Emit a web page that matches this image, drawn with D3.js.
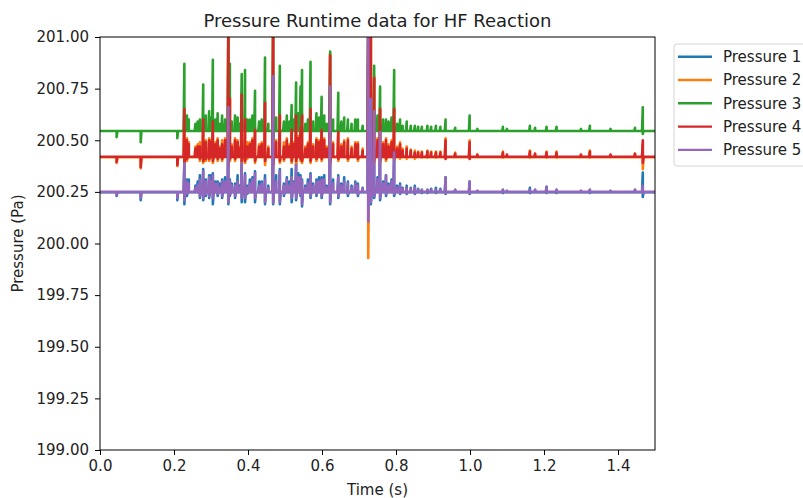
<!DOCTYPE html>
<html>
<head>
<meta charset="utf-8">
<script src="https://cdn.jsdelivr.net/npm/d3@7"></script>
<style>
  body { margin: 0; background: #fff; }
  text { font-family: "DejaVu Sans", sans-serif; fill: #222; }
</style>
</head>
<body>
<div id="chart"></div>
<script>
// event times (s) where the pressure traces spike
var spikeTimes = [0.045, 0.110, 0.209, 0.228, 0.235, 0.270, 0.279, 0.286, 0.295, 0.305,
  0.318, 0.330, 0.347, 0.351, 0.365, 0.383, 0.392, 0.398, 0.419, 0.446,
  0.468, 0.486, 0.497, 0.518, 0.530, 0.542, 0.546, 0.569, 0.585, 0.599,
  0.622, 0.644, 0.670, 0.697, 0.725, 0.732, 0.741, 0.757, 0.773, 0.795,
  0.811, 0.829, 0.851, 0.870, 0.885, 0.908, 0.934, 0.999, 1.089, 1.162,
  1.207, 1.234, 1.324, 1.467];

// resting level of each sensor
var baseLevels = [200.248, 200.418, 200.545, 200.42, 200.25];

// spike tops per sensor (same order as spikeTimes)
var p1High = [200.248, 200.248, 200.248, 200.39, 200.31, 200.33, 200.36, 200.31, 200.33, 200.34,
  200.30, 200.31, 200.66, 200.31, 200.29, 200.40, 200.34, 200.28, 200.35, 200.33,
  200.81, 200.36, 200.29, 200.36, 200.39, 200.33, 200.31, 200.34, 200.31, 200.32,
  200.76, 200.33, 200.30, 200.29, 201.10, 200.70, 200.64, 200.54, 200.33, 200.44,
  200.29, 200.28, 200.28, 200.26, 200.26, 200.27, 200.32, 200.30, 200.26, 200.27,
  200.275, 200.26, 200.26, 200.343];
var p2High = [200.418, 200.418, 200.418, 200.66, 200.51, 200.49, 200.61, 200.50, 200.51, 200.60,
  200.51, 200.50, 201.10, 200.71, 200.51, 200.73, 200.61, 200.49, 200.56, 200.69,
  201.10, 200.63, 200.49, 200.56, 200.63, 200.57, 200.63, 200.66, 200.51, 200.56,
  200.92, 200.55, 200.51, 200.49, 201.10, 201.10, 200.81, 200.66, 200.51, 200.66,
  200.49, 200.47, 200.45, 200.445, 200.45, 200.445, 200.51, 200.50, 200.445, 200.45,
  200.445, 200.445, 200.45, 200.48];
var p3High = [200.545, 200.545, 200.545, 200.87, 200.62, 200.60, 200.77, 200.62, 200.64, 200.89,
  200.63, 200.62, 201.10, 200.87, 200.62, 200.82, 200.84, 200.60, 200.74, 200.90,
  201.10, 200.86, 200.59, 200.67, 200.78, 200.76, 200.84, 200.88, 200.63, 200.71,
  200.93, 200.73, 200.60, 200.60, 201.10, 201.10, 200.86, 200.76, 200.60, 200.84,
  200.60, 200.59, 200.57, 200.565, 200.57, 200.57, 200.60, 200.62, 200.565, 200.57,
  200.565, 200.565, 200.57, 200.66];
var p4High = [200.42, 200.42, 200.42, 200.65, 200.50, 200.47, 200.60, 200.49, 200.50, 200.59,
  200.50, 200.48, 201.10, 200.70, 200.50, 200.72, 200.60, 200.47, 200.55, 200.68,
  201.10, 200.62, 200.47, 200.55, 200.62, 200.56, 200.62, 200.65, 200.50, 200.55,
  200.91, 200.54, 200.50, 200.48, 201.10, 201.10, 200.80, 200.65, 200.50, 200.65,
  200.48, 200.46, 200.44, 200.44, 200.445, 200.44, 200.50, 200.49, 200.44, 200.445,
  200.44, 200.44, 200.445, 200.50];
var p5High = [200.25, 200.25, 200.25, 200.39, 200.30, 200.31, 200.35, 200.30, 200.32, 200.33,
  200.29, 200.30, 200.66, 200.30, 200.28, 200.39, 200.33, 200.27, 200.34, 200.31,
  200.81, 200.35, 200.28, 200.32, 200.38, 200.32, 200.30, 200.33, 200.30, 200.31,
  200.76, 200.32, 200.29, 200.28, 201.10, 200.70, 200.64, 200.54, 200.33, 200.44,
  200.28, 200.27, 200.27, 200.26, 200.26, 200.26, 200.32, 200.30, 200.26, 200.26,
  200.275, 200.26, 200.26, 200.28];

// spike bottoms per sensor (same order as spikeTimes)
var p1Low = [200.23, 200.21, 200.21, 200.19, 200.23, 200.22, 200.21, 200.23, 200.22, 200.19,
  200.23, 200.22, 200.19, 200.23, 200.22, 200.20, 200.20, 200.24, 200.20, 200.19,
  200.19, 200.19, 200.23, 200.20, 200.21, 200.23, 200.18, 200.22, 200.23, 200.22,
  200.19, 200.22, 200.23, 200.23, 200.11, 200.19, 200.22, 200.21, 200.23, 200.23,
  200.24, 200.24, 200.24, 200.245, 200.245, 200.245, 200.24, 200.24, 200.245, 200.245,
  200.245, 200.245, 200.245, 200.225];
var p2Low = [200.39, 200.365, 200.375, 200.38, 200.40, 200.40, 200.39, 200.40, 200.40, 200.39,
  200.40, 200.40, 200.37, 200.40, 200.40, 200.38, 200.39, 200.41, 200.39, 200.38,
  200.37, 200.39, 200.40, 200.39, 200.38, 200.40, 200.39, 200.39, 200.40, 200.40,
  200.38, 200.40, 200.40, 200.40, 199.93, 200.37, 200.39, 200.39, 200.40, 200.40,
  200.41, 200.41, 200.41, 200.415, 200.415, 200.415, 200.41, 200.41, 200.415, 200.415,
  200.415, 200.415, 200.415, 200.36];
var p3Low = [200.515, 200.49, 200.51, 200.545, 200.545, 200.545, 200.545, 200.545, 200.545, 200.545,
  200.545, 200.545, 200.50, 200.545, 200.545, 200.545, 200.545, 200.545, 200.545, 200.545,
  200.50, 200.545, 200.545, 200.545, 200.545, 200.545, 200.545, 200.545, 200.545, 200.545,
  200.52, 200.545, 200.545, 200.545, 200.30, 200.50, 200.545, 200.545, 200.545, 200.545,
  200.545, 200.545, 200.545, 200.545, 200.545, 200.545, 200.545, 200.545, 200.545, 200.545,
  200.545, 200.545, 200.545, 200.53];
var p4Low = [200.395, 200.37, 200.38, 200.39, 200.41, 200.41, 200.40, 200.41, 200.41, 200.40,
  200.41, 200.41, 200.38, 200.41, 200.41, 200.40, 200.40, 200.42, 200.40, 200.40,
  200.38, 200.40, 200.41, 200.40, 200.40, 200.41, 200.40, 200.40, 200.41, 200.41,
  200.39, 200.41, 200.41, 200.41, 200.30, 200.38, 200.40, 200.40, 200.41, 200.41,
  200.42, 200.42, 200.42, 200.42, 200.42, 200.42, 200.41, 200.41, 200.42, 200.42,
  200.42, 200.42, 200.42, 200.39];
var p5Low = [200.235, 200.22, 200.22, 200.21, 200.24, 200.23, 200.22, 200.24, 200.23, 200.22,
  200.24, 200.23, 200.20, 200.24, 200.23, 200.22, 200.22, 200.245, 200.22, 200.20,
  200.196, 200.20, 200.24, 200.22, 200.22, 200.24, 200.19, 200.23, 200.24, 200.23,
  200.20, 200.23, 200.24, 200.24, 200.106, 200.20, 200.23, 200.22, 200.24, 200.24,
  200.245, 200.245, 200.245, 200.25, 200.25, 200.25, 200.245, 200.245, 200.25, 200.25,
  200.25, 200.25, 200.25, 200.245];

// smaller ripples between the main spikes (tops only)
var rippleTimes = [0.240, 0.258, 0.264, 0.300, 0.312, 0.323, 0.338, 0.356, 0.372, 0.377,
  0.405, 0.412, 0.430, 0.437, 0.455, 0.476, 0.505, 0.512, 0.524, 0.536,
  0.555, 0.562, 0.576, 0.592, 0.606, 0.613, 0.630, 0.652, 0.660, 0.680,
  0.690, 0.710, 0.750, 0.765, 0.780, 0.788, 0.803, 0.818, 0.840, 0.860,
  0.895, 0.920, 0.960, 1.020, 1.100, 1.176, 1.300, 1.380, 1.446];
var p1Ripple = [200.31, 200.28, 200.30, 200.33, 200.30, 200.29, 200.32, 200.29, 200.33, 200.28,
  200.31, 200.32, 200.30, 200.30, 200.28, 200.33, 200.32, 200.30, 200.30, 200.34,
  200.28, 200.31, 200.29, 200.32, 200.33, 200.28, 200.31, 200.29, 200.32, 200.28,
  200.30, 200.27, 200.32, 200.30, 200.29, 200.31, 200.28, 200.27, 200.27, 200.265,
  200.265, 200.265, 200.26, 200.255, 200.255, 200.26, 200.255, 200.255, 200.26];
var p2Ripple = [200.49, 200.47, 200.48, 200.50, 200.49, 200.47, 200.51, 200.48, 200.50, 200.47,
  200.49, 200.51, 200.48, 200.49, 200.47, 200.50, 200.51, 200.48, 200.49, 200.52,
  200.47, 200.49, 200.48, 200.50, 200.51, 200.47, 200.49, 200.48, 200.50, 200.47,
  200.49, 200.46, 200.51, 200.49, 200.48, 200.50, 200.47, 200.46, 200.455, 200.445,
  200.445, 200.445, 200.44, 200.43, 200.43, 200.435, 200.43, 200.43, 200.435];
var p3Ripple = [200.60, 200.58, 200.59, 200.61, 200.60, 200.58, 200.60, 200.59, 200.61, 200.58,
  200.60, 200.62, 200.59, 200.60, 200.58, 200.61, 200.62, 200.59, 200.60, 200.63,
  200.58, 200.60, 200.59, 200.61, 200.62, 200.58, 200.60, 200.59, 200.61, 200.58,
  200.60, 200.57, 200.62, 200.60, 200.59, 200.61, 200.58, 200.57, 200.57, 200.565,
  200.565, 200.565, 200.56, 200.555, 200.555, 200.56, 200.555, 200.555, 200.56];
var p4Ripple = [200.48, 200.46, 200.47, 200.49, 200.48, 200.46, 200.50, 200.47, 200.49, 200.46,
  200.48, 200.50, 200.47, 200.48, 200.46, 200.49, 200.50, 200.47, 200.48, 200.51,
  200.46, 200.48, 200.47, 200.49, 200.50, 200.46, 200.48, 200.47, 200.49, 200.46,
  200.48, 200.45, 200.50, 200.48, 200.47, 200.49, 200.46, 200.45, 200.45, 200.44,
  200.44, 200.44, 200.435, 200.43, 200.43, 200.435, 200.43, 200.43, 200.435];
var p5Ripple = [200.29, 200.27, 200.28, 200.30, 200.29, 200.27, 200.30, 200.28, 200.30, 200.27,
  200.29, 200.31, 200.28, 200.29, 200.27, 200.30, 200.31, 200.28, 200.29, 200.32,
  200.27, 200.29, 200.28, 200.30, 200.31, 200.27, 200.29, 200.28, 200.30, 200.27,
  200.29, 200.265, 200.31, 200.29, 200.28, 200.30, 200.27, 200.265, 200.265, 200.26,
  200.26, 200.26, 200.26, 200.255, 200.255, 200.26, 200.255, 200.255, 200.26];

var seriesNames = ["Pressure 1", "Pressure 2", "Pressure 3", "Pressure 4", "Pressure 5"];
var seriesColors = ["#1f77b4", "#ff7f0e", "#2ca02c", "#d62728", "#9467bd"];
var xTicks = [0, 0.2, 0.4, 0.6, 0.8, 1.0, 1.2, 1.4];
var yTicks = [199.00, 199.25, 199.50, 199.75, 200.00, 200.25, 200.50, 200.75, 201.00];
var highs = [p1High, p2High, p3High, p4High, p5High];
var lows = [p1Low, p2Low, p3Low, p4Low, p5Low];
var ripples = [p1Ripple, p2Ripple, p3Ripple, p4Ripple, p5Ripple];

var width = 803, height = 498;
var margin = {top: 37, right: 148, bottom: 48, left: 100};

var svg = d3.select("#chart").append("svg")
  .attr("width", width)
  .attr("height", height);

var x = d3.scaleLinear().domain([0, 1.5]).range([margin.left, width - margin.right]);
var y = d3.scaleLinear().domain([199, 201]).range([height - margin.bottom, margin.top]);

svg.append("defs").append("clipPath")
  .attr("id", "plotClip")
  .append("rect")
  .attr("x", margin.left)
  .attr("y", margin.top)
  .attr("width", width - margin.left - margin.right)
  .attr("height", height - margin.top - margin.bottom);

// each trace: flat baseline, with a narrow up/down excursion at every event
var halfWidth = 0.002;
function tracePoints(k)
{
  var base = baseLevels[k];
  var events = spikeTimes.map(function(t, i) { return [t, highs[k][i], lows[k][i]]; })
    .concat(rippleTimes.map(function(t, i) { return [t, ripples[k][i], base]; }))
    .sort(function(a, b) { return a[0] - b[0]; });
  var pts = [[0, base]];
  events.forEach(function(e) {
    pts.push([e[0] - halfWidth, base]);
    pts.push([e[0], e[1]]);
    pts.push([e[0], e[2]]);
    pts.push([e[0] + halfWidth, base]);
  });
  pts.push([1.5, base]);
  return pts;
}

var line = d3.line()
  .x(function(d) { return x(d[0]); })
  .y(function(d) { return y(d[1]); });

var traces = svg.append("g").attr("clip-path", "url(#plotClip)");
seriesNames.forEach(function(name, k) {
  traces.append("path")
    .datum(tracePoints(k))
    .attr("d", line)
    .attr("fill", "none")
    .attr("stroke", seriesColors[k])
    .attr("stroke-width", 2.6)
    .attr("stroke-linejoin", "round");
});

// frame
svg.append("rect")
  .attr("x", margin.left)
  .attr("y", margin.top)
  .attr("width", width - margin.left - margin.right)
  .attr("height", height - margin.top - margin.bottom)
  .attr("fill", "none")
  .attr("stroke", "#000")
  .attr("stroke-width", 1);

var xAxis = svg.append("g")
  .attr("transform", "translate(0," + (height - margin.bottom) + ")")
  .call(d3.axisBottom(x).tickValues(xTicks).tickFormat(d3.format(".1f")).tickSize(5).tickPadding(5));
var yAxis = svg.append("g")
  .attr("transform", "translate(" + margin.left + ",0)")
  .call(d3.axisLeft(y).tickValues(yTicks).tickFormat(d3.format(".2f")).tickSize(5).tickPadding(6));
[xAxis, yAxis].forEach(function(a) {
  a.select(".domain").remove();
  a.selectAll("text").style("font-size", "15px").attr("fill", "#222");
  a.selectAll("line").attr("stroke", "#000");
});

svg.append("text")
  .attr("x", (margin.left + width - margin.right) / 2)
  .attr("y", 27)
  .attr("text-anchor", "middle")
  .style("font-size", "18px")
  .text("Pressure Runtime data for HF Reaction");

svg.append("text")
  .attr("x", (margin.left + width - margin.right) / 2)
  .attr("y", 495)
  .attr("text-anchor", "middle")
  .style("font-size", "15px")
  .text("Time (s)");

svg.append("text")
  .attr("transform", "translate(23," + ((margin.top + height - margin.bottom) / 2) + ") rotate(-90)")
  .attr("text-anchor", "middle")
  .style("font-size", "15px")
  .text("Pressure (Pa)");

// legend outside the axes, on the right
var legend = svg.append("g").attr("transform", "translate(674,44)");
legend.append("rect")
  .attr("width", 150)
  .attr("height", 122)
  .attr("rx", 3)
  .attr("fill", "#fff")
  .attr("stroke", "#d4d4d4");
seriesNames.forEach(function(name, k) {
  var cy = 12.7 + k * 23.3;
  legend.append("line")
    .attr("x1", 4).attr("x2", 38)
    .attr("y1", cy).attr("y2", cy)
    .attr("stroke", seriesColors[k])
    .attr("stroke-width", 2.4);
  legend.append("text")
    .attr("x", 49)
    .attr("y", cy)
    .attr("dy", "0.35em")
    .style("font-size", "15px")
    .text(name);
});
</script>
</body>
</html>
